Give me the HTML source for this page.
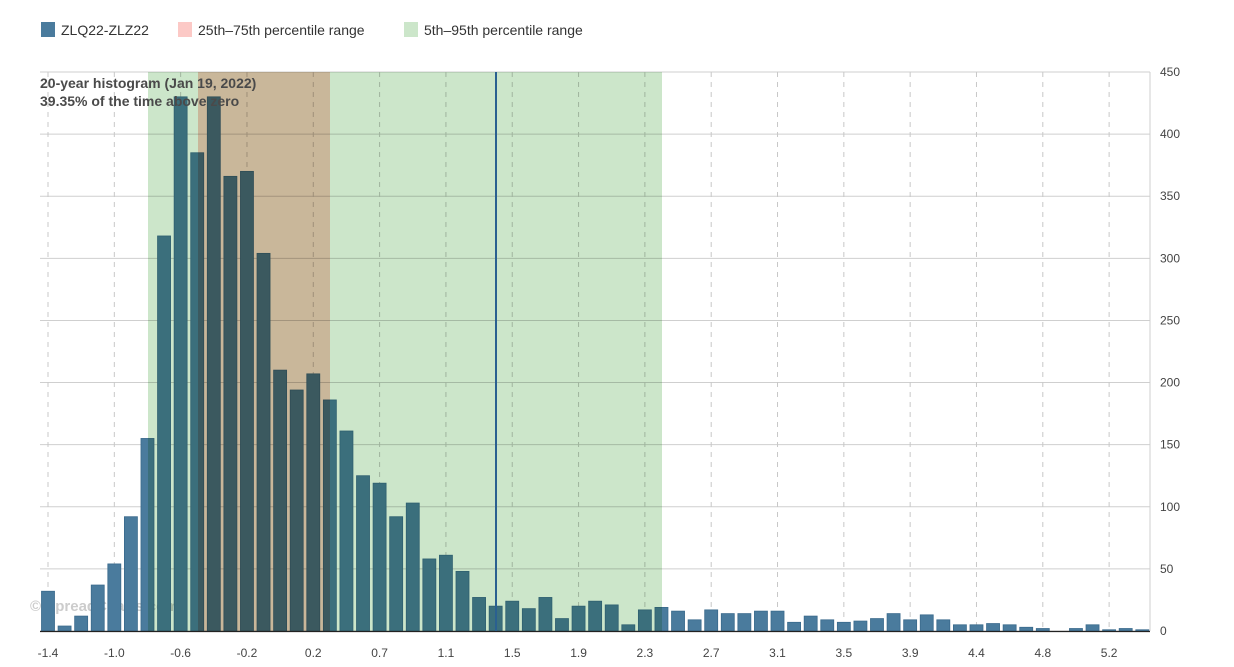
<!DOCTYPE html>
<html><head><meta charset="utf-8"><style>
html,body{margin:0;padding:0;background:#fff;}
svg{display:block;font-family:"Liberation Sans","DejaVu Sans",sans-serif;}
</style></head><body>
<svg id="c" width="1234" height="667" xmlns="http://www.w3.org/2000/svg"></svg>
<script>
const vals=[32,4,12,37,54,92,155,318,430,385,430,366,370,304,210,194,207,186,161,125,119,92,103,58,61,48,27,20,24,18,27,10,20,24,21,5,17,19,16,9,17,14,14,16,16,7,12,9,7,8,10,14,9,13,9,5,5,6,5,3,2,0,2,5,1,2,1];
const ticks=["-1.4","-1.0","-0.6","-0.2","0.2","0.7","1.1","1.5","1.9","2.3","2.7","3.1","3.5","3.9","4.4","4.8","5.2"];
const L=40,R=1150,T=72,B=631,k=(B-T)/450,step=16.58,x0=48;
let s='';
s+='<rect x="41" y="22" width="14" height="15" fill="#4a7b9d"/><text x="61" y="35" font-size="14" fill="#333">ZLQ22-ZLZ22</text>';
s+='<rect x="178" y="22" width="14" height="15" fill="#fcc9c6"/><text x="198" y="35" font-size="14" fill="#333">25th–75th percentile range</text>';
s+='<rect x="404" y="22" width="14" height="15" fill="#cce6ca"/><text x="424" y="35" font-size="14" fill="#333">5th–95th percentile range</text>';
for(let v=0;v<=450;v+=50){const y=B-v*k;s+=`<line x1="${L}" x2="${R}" y1="${y}" y2="${y}" stroke="#cfcfcf"/>`;s+=`<text x="1160" y="${y+4}" font-size="12" fill="#444">${v}</text>`;}
ticks.forEach((t,i)=>{const x=x0+i*4*step;s+=`<line x1="${x}" x2="${x}" y1="${T}" y2="${B}" stroke="#c8c8c8" stroke-dasharray="5,5"/>`;s+=`<text x="${x}" y="657" font-size="12" fill="#444" text-anchor="middle">${t}</text>`;});
s+=`<line x1="${R}" x2="${R}" y1="${T}" y2="${B}" stroke="#cfcfcf"/>`;
s+='<text x="30" y="611" font-size="15" font-weight="bold" fill="#ccc">© SpreadCharts.com</text>';
vals.forEach((v,i)=>{const x=x0+i*step-6.5,h=v*k;s+=`<rect x="${x}" y="${B-h}" width="13" height="${h}" fill="#4a7b9d" stroke="#3a6a8c" stroke-width="0.8"/>`;});
s+=`<rect x="148" y="${T}" width="514" height="${B-T}" fill="#cce6ca" style="mix-blend-mode:multiply"/>`;
s+=`<rect x="198" y="${T}" width="132" height="${B-T}" fill="#fccbc3" style="mix-blend-mode:multiply"/>`;
s+=`<line x1="${L}" x2="${R}" y1="${B+0.5}" y2="${B+0.5}" stroke="#222" stroke-width="1.2"/>`;
s+=`<line x1="496" x2="496" y1="${T}" y2="${B}" stroke="#2a6090" stroke-width="2"/>`;
s+='<text x="40" y="88" font-size="14" font-weight="bold" fill="#4a4a4a">20-year histogram (Jan 19, 2022)</text>';
s+='<text x="40" y="106" font-size="14" font-weight="bold" fill="#4a4a4a">39.35% of the time above zero</text>';
document.getElementById('c').innerHTML=s;
</script>
</body></html>
